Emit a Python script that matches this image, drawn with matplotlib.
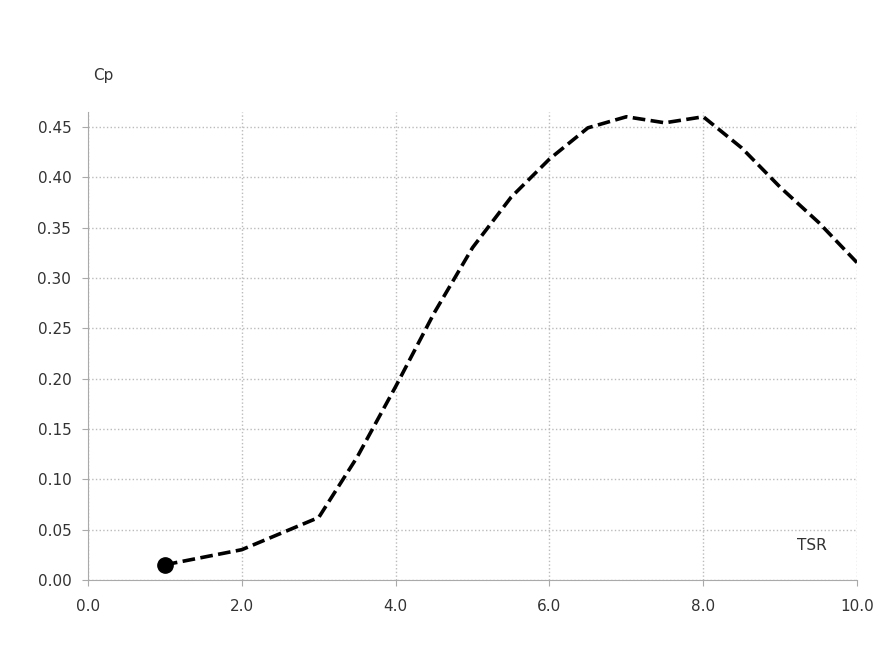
import matplotlib
matplotlib.use('Agg')
import matplotlib.pyplot as plt

# TSR vs Cp curve
tsr = [1.0, 2.0, 3.0, 3.5, 4.0, 4.5, 5.0, 5.5, 6.0, 6.5, 7.0, 7.5, 8.0, 8.5, 9.0, 9.5, 10.0]
cp = [0.015, 0.030, 0.062, 0.122, 0.192, 0.265, 0.330, 0.380, 0.418, 0.449, 0.460, 0.454, 0.460, 0.429, 0.390, 0.355, 0.315]

xticks = [0, 2, 4, 6, 8, 10]
xticklabels = ['0.0', '2.0', '4.0', '6.0', '8.0', '10.0']
yticks = [0.0, 0.05, 0.10, 0.15, 0.20, 0.25, 0.30, 0.35, 0.40, 0.45]

fig = plt.figure(figsize=(8.8, 6.65), dpi=100)
ax = fig.add_axes([0.1, 0.128, 0.874, 0.704])

ax.plot(tsr, cp, color='black', linestyle=(0, (3.5, 1.5)), linewidth=2.6, zorder=3)
ax.plot(tsr[0], cp[0], marker='o', markersize=11, color='black', zorder=4)

ax.set_xlim(0, 10)
ax.set_ylim(0, 0.465)
ax.set_xticks(xticks)
ax.set_xticklabels(xticklabels)
ax.set_yticks(yticks)
ax.set_yticklabels(['%.2f' % v for v in yticks])

ax.grid(True, color='#bbbbbb', linestyle=':', linewidth=1.0)
for s in ['top', 'right']:
    ax.spines[s].set_visible(False)
for s in ['left', 'bottom']:
    ax.spines[s].set_color('#aaaaaa')
ax.tick_params(colors='#aaaaaa', labelcolor='#333333', labelsize=11, length=4)
ax.tick_params(axis='x', pad=10)
ax.tick_params(axis='y', pad=8)

fig.text(0.117, 0.887, 'Cp', fontsize=11, color='#333333', ha='center', va='center')
fig.text(0.923, 0.18, 'TSR', fontsize=11, color='#333333', ha='center', va='center')

fig.savefig('out.png', dpi=100)
